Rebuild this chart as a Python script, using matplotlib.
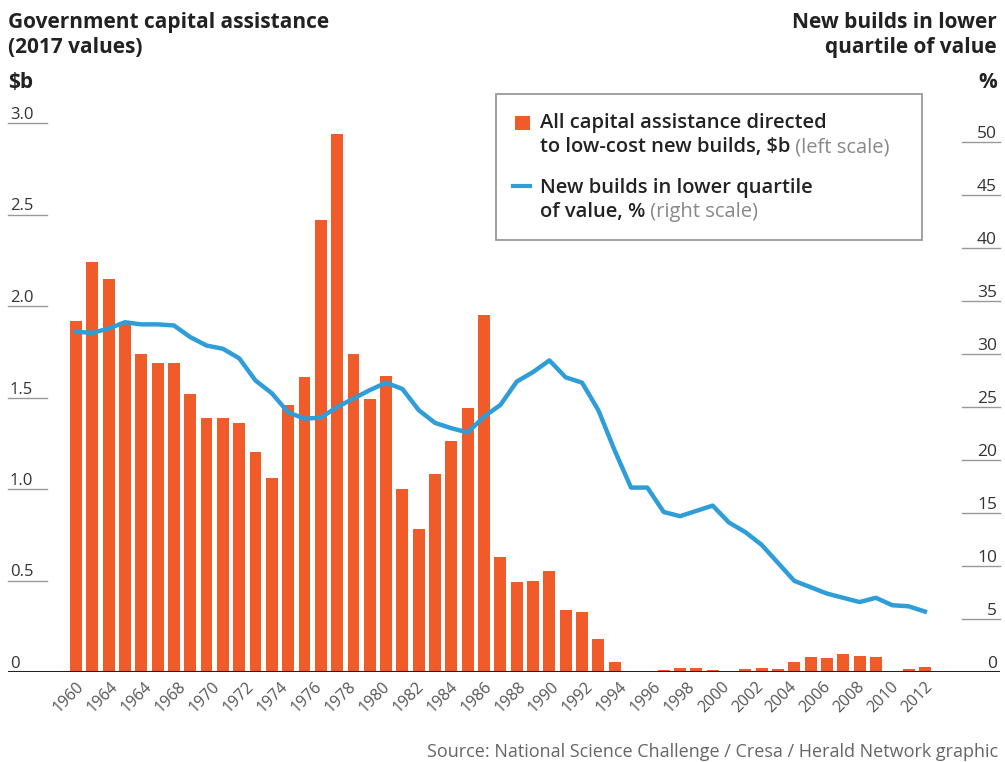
import matplotlib
matplotlib.use('Agg')
import matplotlib.pyplot as plt
import matplotlib.transforms as mtransforms
from matplotlib.patches import Rectangle
from matplotlib.lines import Line2D
import numpy as np

# Data
tahun = list(range(1960, 2013))
bantuan = [1.92, 2.24, 2.15, 1.91, 1.74, 1.69, 1.69, 1.52, 1.39, 1.39,
           1.36, 1.20, 1.06, 1.46, 1.61, 2.47, 2.94, 1.74, 1.49, 1.62,
           1.00, 0.78, 1.08, 1.26, 1.44, 1.95, 0.63, 0.49, 0.50, 0.55,
           0.34, 0.33, 0.18, 0.055, 0.006, 0.006, 0.01, 0.02, 0.02, 0.01,
           0.006, 0.015, 0.02, 0.015, 0.055, 0.08, 0.075, 0.10, 0.09, 0.08,
           0.006, 0.015, 0.03]
persen = [32.1, 32.0, 32.4, 33.0, 32.8, 32.8, 32.7, 31.6, 30.8, 30.5,
          29.6, 27.5, 26.3, 24.5, 23.9, 24.0, 25.0, 25.8, 26.6, 27.3,
          26.7, 24.7, 23.5, 23.0, 22.6, 24.1, 25.2, 27.4, 28.3, 29.4,
          27.8, 27.3, 24.7, 20.9, 17.4, 17.4, 15.1, 14.7, 15.2, 15.7,
          14.1, 13.2, 12.0, 10.3, 8.6, 8.0, 7.4, 7.0, 6.6, 7.0,
          6.3, 6.2, 5.7]
label_x = ['1960', '1964', '1964', '1968', '1970', '1972', '1974', '1976',
           '1978', '1980', '1982', '1984', '1986', '1988', '1990', '1992',
           '1994', '1996', '1998', '2000', '2002', '2004', '2006', '2008',
           '2010', '2012']
tick_kiri = [0, 0.5, 1.0, 1.5, 2.0, 2.5, 3.0]
tick_kanan = [0, 5, 10, 15, 20, 25, 30, 35, 40, 45, 50]

oranye = '#f15a29'
biru = '#2f9ed8'
gelap = '#222222'
abu = '#555555'

plt.rcParams['font.family'] = ['Open Sans', 'DejaVu Sans']

fig = plt.figure(figsize=(10.05, 7.62), dpi=100)
ax = fig.add_axes([8 / 1005, 90 / 762, 992 / 1005, 549 / 762])
ax2 = ax.twinx()

x = np.arange(len(tahun))
ax.bar(x, bantuan, width=0.73, color=oranye, zorder=2)
ax2.plot(x, persen, color=biru, lw=3.2, solid_joinstyle='round', zorder=3)

ax.set_xlim(-4.16, 56.6)
ax.set_ylim(0, 3.0)
ax2.set_ylim(0, 51.8)

for a in (ax, ax2):
    for s in a.spines.values():
        s.set_visible(False)
    a.set_yticks([])
ax.axhline(0, color=gelap, lw=2.2, zorder=4)

# x labels
posisi = np.linspace(0, len(tahun) - 1, len(label_x))
ax.set_xticks(posisi)
ax.set_xticklabels(label_x, rotation=45, ha='right', rotation_mode='anchor',
                   fontsize=11.5, color=abu)
ax.tick_params(axis='x', length=0, pad=5)

# left scale
trans_kiri = mtransforms.blended_transform_factory(ax.transAxes, ax.transData)
for v in tick_kiri:
    teks = '0' if v == 0 else f'{v:.1f}'
    ax.text(0.002, v, teks, transform=trans_kiri, ha='left', va='bottom',
            fontsize=12, color='#333333')
    if v > 0:
        ax.plot([0, 0.039], [v, v], transform=trans_kiri, color='#999999',
                lw=1, clip_on=False)

# right scale
trans_kanan = mtransforms.blended_transform_factory(ax2.transAxes, ax2.transData)
for v in tick_kanan:
    ax2.text(0.997, v, str(v), transform=trans_kanan, ha='right', va='bottom',
             fontsize=12.5, color='#333333')
    if v > 0:
        ax2.plot([0.962, 0.9995], [v, v], transform=trans_kanan, color='#999999',
                 lw=1, clip_on=False)

# titles
def px(xp, yp):
    return xp / 1005, 1 - yp / 762

judul = dict(fontsize=15, fontweight='bold', color=gelap)
fig.text(*px(8, 28), 'Government capital assistance', ha='left', va='baseline', **judul)
fig.text(*px(8, 53), '(2017 values)', ha='left', va='baseline', **judul)
fig.text(*px(8, 88), '$b', ha='left', va='baseline', **judul)
fig.text(*px(997, 28), 'New builds in lower', ha='right', va='baseline', **judul)
fig.text(*px(997, 53), 'quartile of value', ha='right', va='baseline', **judul)
fig.text(*px(997, 88), '%', ha='right', va='baseline', **judul)

# legend box
x0, y0 = px(496, 240)
x1, y1 = px(922, 94)
fig.patches.append(Rectangle((x0, y0), x1 - x0, y1 - y0, transform=fig.transFigure,
                             facecolor='white', edgecolor='#9a9a9a', lw=1.3, zorder=5))
sx, sy = px(515, 130)
fig.patches.append(Rectangle((sx, sy), 15 / 1005, 14 / 762, transform=fig.transFigure,
                             facecolor=oranye, edgecolor='none', zorder=6))
lx = px(513, 186)
fig.lines.append(Line2D([lx[0], lx[0] + 17 / 1005], [lx[1], lx[1]], transform=fig.transFigure,
                        color=biru, lw=3, zorder=6))

leg = dict(fontsize=14.5, fontweight='semibold', color=gelap, ha='left', va='baseline', zorder=7)
redup = dict(fontsize=14.5, fontweight='normal', color='#888888', ha='left', va='baseline', zorder=7)
fig.text(*px(540, 128), 'All capital assistance directed', **leg)
t1 = fig.text(*px(540, 152), 'to low-cost new builds, $b', **leg)
fig.text(*px(540, 193), 'New builds in lower quartile', **leg)
t2 = fig.text(*px(540, 217), 'of value, %', **leg)
fig.canvas.draw()
r = fig.canvas.get_renderer()
for t, isi in ((t1, ' (left scale)'), (t2, ' (right scale)')):
    bb = t.get_window_extent(renderer=r)
    xp = bb.x1 / fig.bbox.width
    fig.text(xp, t.get_position()[1], isi, **redup)

fig.text(*px(998, 757), 'Source: National Science Challenge / Cresa / Herald Network graphic',
         ha='right', va='baseline', fontsize=13, color='#666666')

fig.savefig('out.png', dpi=100)
